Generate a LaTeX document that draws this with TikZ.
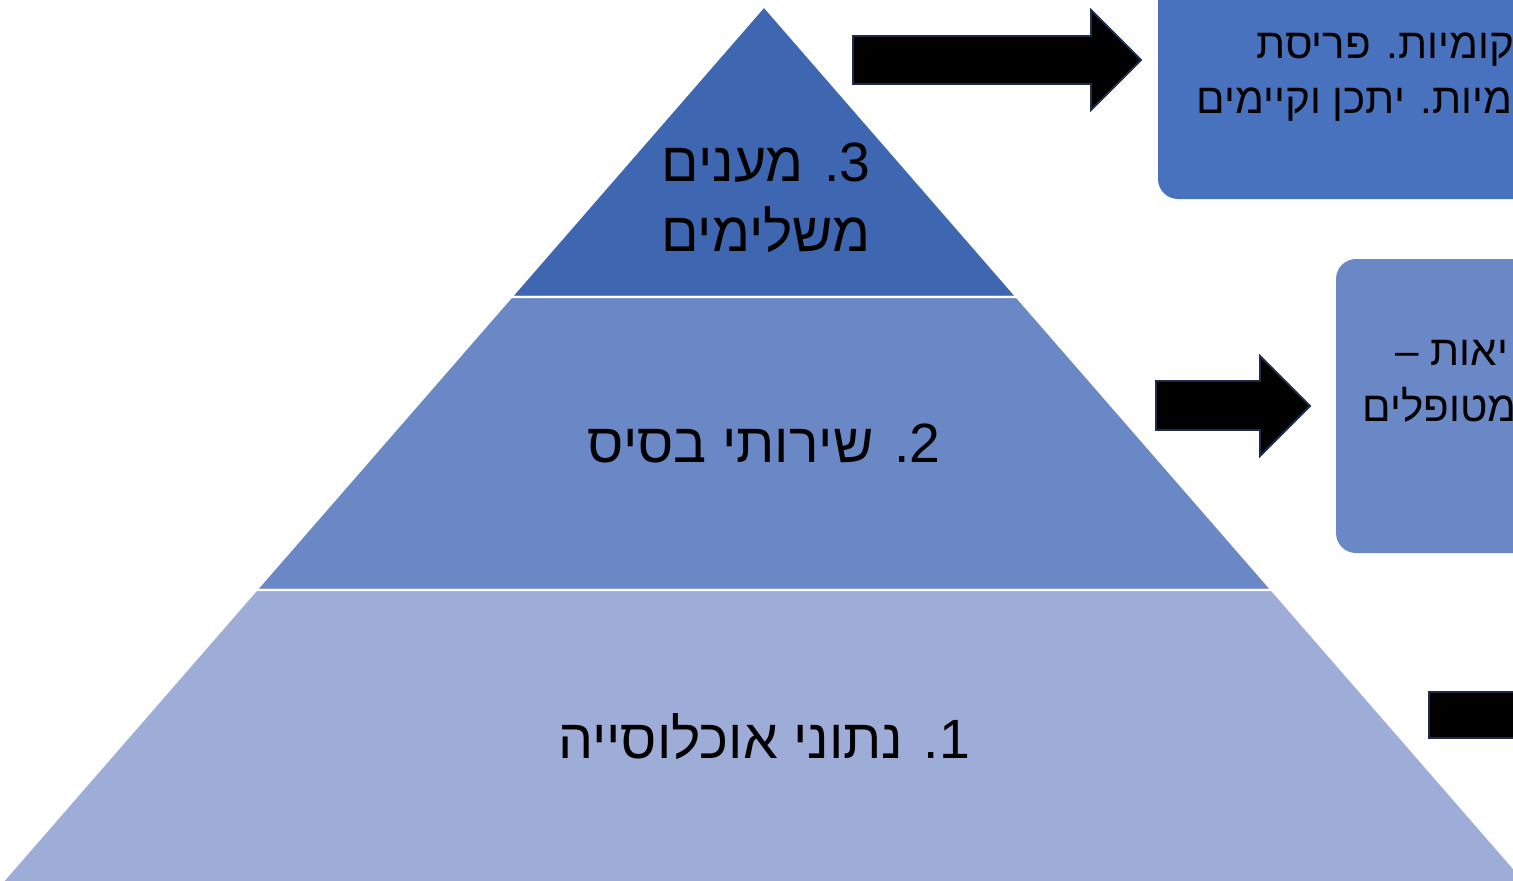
\documentclass[tikz,border=0pt]{standalone}
\usepackage{fontspec}
\newfontfamily\hebfont[Script=Hebrew]{Liberation Sans}
\TeXXeTstate=1
\definecolor{topblue}{RGB}{63,103,177}
\definecolor{midblue}{RGB}{106,136,198}
\definecolor{lowblue}{RGB}{158,173,216}
\definecolor{boxblue}{RGB}{72,114,190}
\definecolor{arrowline}{RGB}{30,44,74}
\begin{document}
\begin{tikzpicture}[x=0.02cm,y=-0.02cm,
	layer/.style={draw=white,line width=1.4pt},
	level text/.style={font=\hebfont\fontsize{31.5}{40}\selectfont,align=center,inner sep=0pt},
	side box/.style={rounded corners=0.4cm},
	side text/.style={font=\hebfont\fontsize{24}{32}\selectfont,anchor=base west,inner sep=0pt},
	block arrow/.style={fill=black,draw=arrowline,line width=1.1pt,line join=miter}
]

	\useasboundingbox (0,0) rectangle (1513,880);
	\clip (0,0) rectangle (1513,880);

	\path[layer,fill=topblue] (764,6) -- (1017,297) -- (511,297) -- cycle;
	\path[layer,fill=midblue] (511,297) -- (1017,297) -- (1272,590) -- (256,590) -- cycle;
	\path[layer,fill=lowblue] (256,590) -- (1272,590) -- (1546,905) -- (-18,905) -- cycle;

	\node[level text] (top) at (766,198) {\beginR 3. מענים\endR\\\beginR משלימים\endR};
	\node[level text] (mid) at (764,443) {\beginR 2. שירותי בסיס\endR};
	\node[level text] (low) at (764,737) {\beginR 1. נתוני אוכלוסייה\endR};

	\fill[boxblue,side box] (1158,-40) rectangle (1700,199);
	\fill[midblue,side box] (1336,259) rectangle (1700,553);

	\node[side text] (box1a) at (1256,58) {\beginR מקומיות. פריסת\endR};
	\node[side text] (box1b) at (1196,113) {\beginR ומיות. יתכן וקיימים\endR};
	\node[side text] (box2a) at (1395,365) {\beginR יאות –\endR};
	\node[side text] (box2b) at (1362,421) {\beginR מטופלים\endR};

	\draw[block arrow] (853,36) -- (1091,36) -- (1091,10) -- (1141,60) -- (1091,110) -- (1091,84) -- (853,84) -- cycle;
	\draw[block arrow] (1156,381) -- (1260,381) -- (1260,356) -- (1310,406) -- (1260,456) -- (1260,430) -- (1156,430) -- cycle;
	\draw[block arrow] (1429,692) -- (1540,692) -- (1540,667) -- (1590,715) -- (1540,763) -- (1540,738) -- (1429,738) -- cycle;
\end{tikzpicture}
\end{document}
